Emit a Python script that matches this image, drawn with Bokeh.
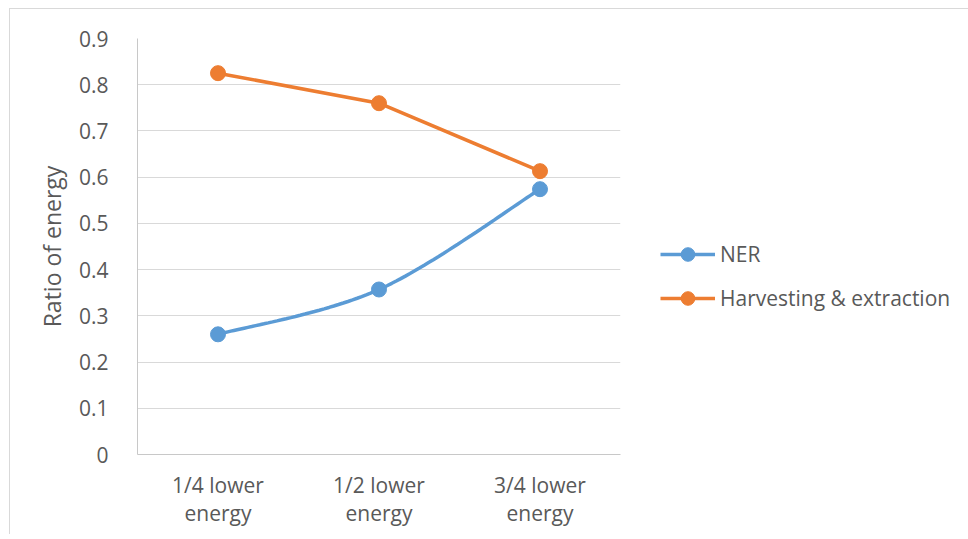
import numpy as np
from bokeh.plotting import figure
from bokeh.models import FixedTicker, Legend, LegendItem, Range1d
from bokeh.embed import file_html
from bokeh.resources import INLINE

# Scenario categories and the two energy ratios per scenario
categories = ["1/4 lower\nenergy", "1/2 lower\nenergy", "3/4 lower\nenergy"]
ner = [0.26, 0.357, 0.574]
harvesting = [0.825, 0.76, 0.613]
y_ticks = [0.0, 0.1, 0.2, 0.3, 0.4, 0.5, 0.6, 0.7, 0.8, 0.9]

FONT = "Open Sans"
TEXT = "#595959"
BLUE = "#5b9bd5"
ORANGE = "#ed7d31"

x = np.arange(len(categories), dtype=float)


def smooth_curve(xs, ys, steps=40):
    """Cubic Bezier spline through the points (Catmull-Rom tangents)."""
    pts = np.column_stack([xs, ys])
    n = len(pts)
    out = []
    for i in range(n - 1):
        p0 = pts[i - 1] if i > 0 else pts[i]
        p1, p2 = pts[i], pts[i + 1]
        p3 = pts[i + 2] if i + 2 < n else pts[i + 1]
        c1 = p1 + (p2 - p0) / 6.0
        c2 = p2 - (p3 - p1) / 6.0
        t = np.linspace(0, 1, steps)[:, None]
        seg = ((1 - t) ** 3) * p1 + 3 * ((1 - t) ** 2) * t * c1 \
            + 3 * (1 - t) * t ** 2 * c2 + t ** 3 * p2
        out.append(seg if i == 0 else seg[1:])
    curve = np.vstack(out)
    return curve[:, 0], curve[:, 1]


p = figure(
    frame_width=483, frame_height=416,
    min_border_left=127, min_border_top=29,
    min_border_right=345, min_border_bottom=80,
    x_range=Range1d(-0.5, 2.5), y_range=Range1d(0, 0.9),
    output_backend="svg", toolbar_location=None,
    background_fill_color="white", border_fill_color="white",
)
p.margin = (8, 0, 0, 9)
p.styles = {"border-left": "1px solid #d9d9d9", "border-top": "1px solid #d9d9d9"}
p.outline_line_color = None

# grid
p.xgrid.grid_line_color = None
p.ygrid.grid_line_color = "#d9d9d9"
p.ygrid.grid_line_width = 1

# axes
p.xaxis.ticker = FixedTicker(ticks=list(x))
p.xaxis.major_label_overrides = {float(i): c for i, c in zip(x, categories)}
p.yaxis.ticker = FixedTicker(ticks=y_ticks)
p.yaxis.major_label_overrides = {t: ("0" if t == 0 else f"{t:.1f}") for t in y_ticks}
for ax in (p.xaxis[0], p.yaxis[0]):
    ax.axis_line_color = "#c8c8c8"
    ax.axis_line_width = 1
    ax.major_tick_line_color = None
    ax.minor_tick_line_color = None
    ax.major_label_text_font = FONT
    ax.major_label_text_font_size = "21px"
    ax.major_label_text_color = TEXT
p.xaxis.major_label_text_line_height = 1.0
p.xaxis.major_label_standoff = 10
p.yaxis.major_label_standoff = 23
p.yaxis.axis_label = "Ratio of energy"
p.yaxis.axis_label_text_font = FONT
p.yaxis.axis_label_text_font_size = "23px"
p.yaxis.axis_label_text_font_style = "normal"
p.yaxis.axis_label_text_color = TEXT
p.yaxis.axis_label_standoff = 8

# series
sx, sy = smooth_curve(x, ner)
ner_line = p.line(sx, sy, line_color=BLUE, line_width=3.5)
ner_pts = p.scatter(x, ner, size=15, fill_color=BLUE, line_color=BLUE)
hv_line = p.line(x, harvesting, line_color=ORANGE, line_width=3.5)
hv_pts = p.scatter(x, harvesting, size=15, fill_color=ORANGE, line_color=ORANGE)

legend = Legend(
    items=[
        LegendItem(label="NER", renderers=[ner_line, ner_pts]),
        LegendItem(label="Harvesting & extraction", renderers=[hv_line, hv_pts]),
    ],
    location=(40, 139),
    orientation="vertical",
    border_line_color=None,
    background_fill_alpha=0,
    padding=0, margin=0,
    glyph_width=55, glyph_height=34,
    label_height=34, spacing=10, label_standoff=5,
    label_text_font=FONT, label_text_font_size="21px", label_text_color=TEXT,
)
p.add_layout(legend, "right")

open("out.html", "w").write(file_html(p, INLINE))
